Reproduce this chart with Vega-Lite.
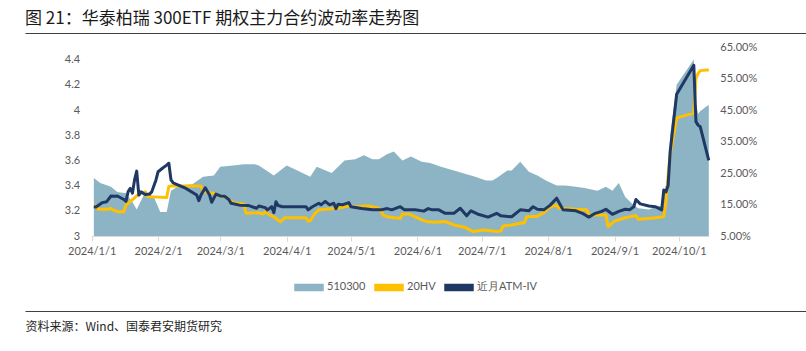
{
  "$schema": "https://vega.github.io/schema/vega-lite/v6.json",
  "width": 781,
  "height": 278,
  "autosize": {"type": "none"},
  "padding": {"left": 25, "top": 33, "right": 0, "bottom": 40},
  "background": "white",
  "view": {"stroke": "#404040", "strokeWidth": 1, "strokeDash": [781, 278], "fill": null},
  "title": {
    "text": "图 21：华泰柏瑞 300ETF 期权主力合约波动率走势图",
    "anchor": "start",
    "frame": "group",
    "font": "Noto Sans CJK SC",
    "fontSize": 17,
    "fontWeight": "normal",
    "color": "#1a1a1a",
    "offset": 5
  },
  "config": {
    "font": "Lato",
    "axis": {"grid": false, "labelFont": "Lato", "labelFontSize": 11, "labelColor": "#595959"}
  },
  "data": {
    "format": {"parse": {"d": "date"}},
    "values": [
      {"d": "2024/1/2", "s": "510300", "v": 3.46}, {"d": "2024/1/5", "s": "510300", "v": 3.42}, {"d": "2024/1/10", "s": "510300", "v": 3.39}, {"d": "2024/1/13", "s": "510300", "v": 3.35}, {"d": "2024/1/17", "s": "510300", "v": 3.34}, {"d": "2024/1/20", "s": "510300", "v": 3.27}, {"d": "2024/1/22", "s": "510300", "v": 3.21}, {"d": "2024/1/24", "s": "510300", "v": 3.28}, {"d": "2024/1/26", "s": "510300", "v": 3.35}, {"d": "2024/1/30", "s": "510300", "v": 3.31}, {"d": "2024/2/2", "s": "510300", "v": 3.19}, {"d": "2024/2/5", "s": "510300", "v": 3.19}, {"d": "2024/2/7", "s": "510300", "v": 3.36}, {"d": "2024/2/11", "s": "510300", "v": 3.40}, {"d": "2024/2/17", "s": "510300", "v": 3.41}, {"d": "2024/2/22", "s": "510300", "v": 3.47}, {"d": "2024/2/27", "s": "510300", "v": 3.48}, {"d": "2024/3/1", "s": "510300", "v": 3.55}, {"d": "2024/3/7", "s": "510300", "v": 3.56}, {"d": "2024/3/12", "s": "510300", "v": 3.57}, {"d": "2024/3/17", "s": "510300", "v": 3.57}, {"d": "2024/3/19", "s": "510300", "v": 3.56}, {"d": "2024/3/26", "s": "510300", "v": 3.48}, {"d": "2024/4/1", "s": "510300", "v": 3.56}, {"d": "2024/4/6", "s": "510300", "v": 3.52}, {"d": "2024/4/12", "s": "510300", "v": 3.47}, {"d": "2024/4/15", "s": "510300", "v": 3.55}, {"d": "2024/4/22", "s": "510300", "v": 3.50}, {"d": "2024/4/28", "s": "510300", "v": 3.60}, {"d": "2024/5/3", "s": "510300", "v": 3.61}, {"d": "2024/5/7", "s": "510300", "v": 3.64}, {"d": "2024/5/11", "s": "510300", "v": 3.61}, {"d": "2024/5/14", "s": "510300", "v": 3.61}, {"d": "2024/5/18", "s": "510300", "v": 3.65}, {"d": "2024/5/21", "s": "510300", "v": 3.67}, {"d": "2024/5/25", "s": "510300", "v": 3.60}, {"d": "2024/5/29", "s": "510300", "v": 3.63}, {"d": "2024/6/3", "s": "510300", "v": 3.59}, {"d": "2024/6/7", "s": "510300", "v": 3.58}, {"d": "2024/6/12", "s": "510300", "v": 3.55}, {"d": "2024/6/20", "s": "510300", "v": 3.51}, {"d": "2024/6/28", "s": "510300", "v": 3.47}, {"d": "2024/7/3", "s": "510300", "v": 3.44}, {"d": "2024/7/6", "s": "510300", "v": 3.44}, {"d": "2024/7/8", "s": "510300", "v": 3.46}, {"d": "2024/7/13", "s": "510300", "v": 3.52}, {"d": "2024/7/15", "s": "510300", "v": 3.52}, {"d": "2024/7/19", "s": "510300", "v": 3.59}, {"d": "2024/7/23", "s": "510300", "v": 3.51}, {"d": "2024/7/27", "s": "510300", "v": 3.48}, {"d": "2024/7/31", "s": "510300", "v": 3.44}, {"d": "2024/8/5", "s": "510300", "v": 3.40}, {"d": "2024/8/9", "s": "510300", "v": 3.40}, {"d": "2024/8/14", "s": "510300", "v": 3.39}, {"d": "2024/8/18", "s": "510300", "v": 3.38}, {"d": "2024/8/24", "s": "510300", "v": 3.36}, {"d": "2024/8/28", "s": "510300", "v": 3.39}, {"d": "2024/8/31", "s": "510300", "v": 3.36}, {"d": "2024/9/3", "s": "510300", "v": 3.42}, {"d": "2024/9/6", "s": "510300", "v": 3.31}, {"d": "2024/9/9", "s": "510300", "v": 3.26}, {"d": "2024/9/12", "s": "510300", "v": 3.22}, {"d": "2024/9/17", "s": "510300", "v": 3.21}, {"d": "2024/9/20", "s": "510300", "v": 3.23}, {"d": "2024/9/23", "s": "510300", "v": 3.24}, {"d": "2024/9/24", "s": "510300", "v": 3.35}, {"d": "2024/9/25", "s": "510300", "v": 3.40}, {"d": "2024/9/26", "s": "510300", "v": 3.51}, {"d": "2024/9/27", "s": "510300", "v": 3.80}, {"d": "2024/9/30", "s": "510300", "v": 4.20}, {"d": "2024/10/8", "s": "510300", "v": 4.40}, {"d": "2024/10/9", "s": "510300", "v": 4.05}, {"d": "2024/10/10", "s": "510300", "v": 3.97}, {"d": "2024/10/11", "s": "510300", "v": 3.99}, {"d": "2024/10/14", "s": "510300", "v": 4.03}, {"d": "2024/10/15", "s": "510300", "v": 4.04},

      {"d": "2024/1/2", "s": "20HV", "v": 0.146}, {"d": "2024/1/3", "s": "20HV", "v": 0.146}, {"d": "2024/1/4", "s": "20HV", "v": 0.135}, {"d": "2024/1/9", "s": "20HV", "v": 0.135}, {"d": "2024/1/10", "s": "20HV", "v": 0.138}, {"d": "2024/1/11", "s": "20HV", "v": 0.133}, {"d": "2024/1/13", "s": "20HV", "v": 0.127}, {"d": "2024/1/16", "s": "20HV", "v": 0.127}, {"d": "2024/1/17", "s": "20HV", "v": 0.148}, {"d": "2024/1/19", "s": "20HV", "v": 0.159}, {"d": "2024/1/22", "s": "20HV", "v": 0.177}, {"d": "2024/1/24", "s": "20HV", "v": 0.186}, {"d": "2024/1/26", "s": "20HV", "v": 0.19}, {"d": "2024/1/27", "s": "20HV", "v": 0.175}, {"d": "2024/2/5", "s": "20HV", "v": 0.172}, {"d": "2024/2/6", "s": "20HV", "v": 0.207}, {"d": "2024/2/7", "s": "20HV", "v": 0.209}, {"d": "2024/2/21", "s": "20HV", "v": 0.209}, {"d": "2024/2/22", "s": "20HV", "v": 0.191}, {"d": "2024/2/24", "s": "20HV", "v": 0.188}, {"d": "2024/2/27", "s": "20HV", "v": 0.186}, {"d": "2024/2/28", "s": "20HV", "v": 0.181}, {"d": "2024/3/4", "s": "20HV", "v": 0.172}, {"d": "2024/3/7", "s": "20HV", "v": 0.156}, {"d": "2024/3/12", "s": "20HV", "v": 0.151}, {"d": "2024/3/13", "s": "20HV", "v": 0.122}, {"d": "2024/3/19", "s": "20HV", "v": 0.124}, {"d": "2024/3/21", "s": "20HV", "v": 0.12}, {"d": "2024/3/22", "s": "20HV", "v": 0.127}, {"d": "2024/3/24", "s": "20HV", "v": 0.117}, {"d": "2024/3/26", "s": "20HV", "v": 0.111}, {"d": "2024/3/29", "s": "20HV", "v": 0.095}, {"d": "2024/3/31", "s": "20HV", "v": 0.108}, {"d": "2024/4/10", "s": "20HV", "v": 0.108}, {"d": "2024/4/11", "s": "20HV", "v": 0.097}, {"d": "2024/4/12", "s": "20HV", "v": 0.099}, {"d": "2024/4/14", "s": "20HV", "v": 0.12}, {"d": "2024/4/16", "s": "20HV", "v": 0.133}, {"d": "2024/4/25", "s": "20HV", "v": 0.138}, {"d": "2024/4/30", "s": "20HV", "v": 0.146}, {"d": "2024/5/3", "s": "20HV", "v": 0.143}, {"d": "2024/5/9", "s": "20HV", "v": 0.145}, {"d": "2024/5/14", "s": "20HV", "v": 0.138}, {"d": "2024/5/16", "s": "20HV", "v": 0.117}, {"d": "2024/5/18", "s": "20HV", "v": 0.111}, {"d": "2024/5/21", "s": "20HV", "v": 0.108}, {"d": "2024/5/24", "s": "20HV", "v": 0.106}, {"d": "2024/5/25", "s": "20HV", "v": 0.12}, {"d": "2024/5/28", "s": "20HV", "v": 0.12}, {"d": "2024/5/31", "s": "20HV", "v": 0.111}, {"d": "2024/6/3", "s": "20HV", "v": 0.101}, {"d": "2024/6/6", "s": "20HV", "v": 0.095}, {"d": "2024/6/9", "s": "20HV", "v": 0.094}, {"d": "2024/6/14", "s": "20HV", "v": 0.096}, {"d": "2024/6/18", "s": "20HV", "v": 0.085}, {"d": "2024/6/23", "s": "20HV", "v": 0.078}, {"d": "2024/6/27", "s": "20HV", "v": 0.064}, {"d": "2024/7/2", "s": "20HV", "v": 0.069}, {"d": "2024/7/8", "s": "20HV", "v": 0.064}, {"d": "2024/7/10", "s": "20HV", "v": 0.066}, {"d": "2024/7/11", "s": "20HV", "v": 0.082}, {"d": "2024/7/15", "s": "20HV", "v": 0.085}, {"d": "2024/7/21", "s": "20HV", "v": 0.093}, {"d": "2024/7/22", "s": "20HV", "v": 0.111}, {"d": "2024/7/27", "s": "20HV", "v": 0.113}, {"d": "2024/7/30", "s": "20HV", "v": 0.124}, {"d": "2024/8/2", "s": "20HV", "v": 0.143}, {"d": "2024/8/5", "s": "20HV", "v": 0.148}, {"d": "2024/8/6", "s": "20HV", "v": 0.138}, {"d": "2024/8/14", "s": "20HV", "v": 0.135}, {"d": "2024/8/19", "s": "20HV", "v": 0.133}, {"d": "2024/8/20", "s": "20HV", "v": 0.117}, {"d": "2024/8/28", "s": "20HV", "v": 0.117}, {"d": "2024/8/29", "s": "20HV", "v": 0.08}, {"d": "2024/9/1", "s": "20HV", "v": 0.097}, {"d": "2024/9/6", "s": "20HV", "v": 0.108}, {"d": "2024/9/11", "s": "20HV", "v": 0.115}, {"d": "2024/9/12", "s": "20HV", "v": 0.103}, {"d": "2024/9/18", "s": "20HV", "v": 0.106}, {"d": "2024/9/20", "s": "20HV", "v": 0.108}, {"d": "2024/9/23", "s": "20HV", "v": 0.11}, {"d": "2024/9/24", "s": "20HV", "v": 0.112}, {"d": "2024/9/25", "s": "20HV", "v": 0.159}, {"d": "2024/9/26", "s": "20HV", "v": 0.24}, {"d": "2024/9/27", "s": "20HV", "v": 0.31}, {"d": "2024/9/30", "s": "20HV", "v": 0.425}, {"d": "2024/10/8", "s": "20HV", "v": 0.44}, {"d": "2024/10/9", "s": "20HV", "v": 0.55}, {"d": "2024/10/10", "s": "20HV", "v": 0.566}, {"d": "2024/10/11", "s": "20HV", "v": 0.575}, {"d": "2024/10/14", "s": "20HV", "v": 0.577}, {"d": "2024/10/15", "s": "20HV", "v": 0.577},

      {"d": "2024/1/2", "s": "近月ATM-IV", "v": 0.143}, {"d": "2024/1/3", "s": "近月ATM-IV", "v": 0.142}, {"d": "2024/1/6", "s": "近月ATM-IV", "v": 0.156}, {"d": "2024/1/8", "s": "近月ATM-IV", "v": 0.159}, {"d": "2024/1/10", "s": "近月ATM-IV", "v": 0.177}, {"d": "2024/1/12", "s": "近月ATM-IV", "v": 0.176}, {"d": "2024/1/13", "s": "近月ATM-IV", "v": 0.177}, {"d": "2024/1/16", "s": "近月ATM-IV", "v": 0.166}, {"d": "2024/1/17", "s": "近月ATM-IV", "v": 0.16}, {"d": "2024/1/18", "s": "近月ATM-IV", "v": 0.191}, {"d": "2024/1/19", "s": "近月ATM-IV", "v": 0.201}, {"d": "2024/1/20", "s": "近月ATM-IV", "v": 0.186}, {"d": "2024/1/21", "s": "近月ATM-IV", "v": 0.228}, {"d": "2024/1/22", "s": "近月ATM-IV", "v": 0.256}, {"d": "2024/1/23", "s": "近月ATM-IV", "v": 0.18}, {"d": "2024/1/24", "s": "近月ATM-IV", "v": 0.19}, {"d": "2024/1/26", "s": "近月ATM-IV", "v": 0.182}, {"d": "2024/1/28", "s": "近月ATM-IV", "v": 0.183}, {"d": "2024/1/29", "s": "近月ATM-IV", "v": 0.19}, {"d": "2024/1/31", "s": "近月ATM-IV", "v": 0.228}, {"d": "2024/2/1", "s": "近月ATM-IV", "v": 0.254}, {"d": "2024/2/3", "s": "近月ATM-IV", "v": 0.265}, {"d": "2024/2/5", "s": "近月ATM-IV", "v": 0.275}, {"d": "2024/2/6", "s": "近月ATM-IV", "v": 0.281}, {"d": "2024/2/7", "s": "近月ATM-IV", "v": 0.228}, {"d": "2024/2/8", "s": "近月ATM-IV", "v": 0.219}, {"d": "2024/2/14", "s": "近月ATM-IV", "v": 0.201}, {"d": "2024/2/19", "s": "近月ATM-IV", "v": 0.18}, {"d": "2024/2/20", "s": "近月ATM-IV", "v": 0.162}, {"d": "2024/2/21", "s": "近月ATM-IV", "v": 0.18}, {"d": "2024/2/23", "s": "近月ATM-IV", "v": 0.203}, {"d": "2024/2/25", "s": "近月ATM-IV", "v": 0.18}, {"d": "2024/2/26", "s": "近月ATM-IV", "v": 0.157}, {"d": "2024/2/28", "s": "近月ATM-IV", "v": 0.183}, {"d": "2024/3/1", "s": "近月ATM-IV", "v": 0.177}, {"d": "2024/3/3", "s": "近月ATM-IV", "v": 0.176}, {"d": "2024/3/5", "s": "近月ATM-IV", "v": 0.166}, {"d": "2024/3/6", "s": "近月ATM-IV", "v": 0.154}, {"d": "2024/3/10", "s": "近月ATM-IV", "v": 0.148}, {"d": "2024/3/14", "s": "近月ATM-IV", "v": 0.147}, {"d": "2024/3/18", "s": "近月ATM-IV", "v": 0.138}, {"d": "2024/3/19", "s": "近月ATM-IV", "v": 0.145}, {"d": "2024/3/22", "s": "近月ATM-IV", "v": 0.14}, {"d": "2024/3/23", "s": "近月ATM-IV", "v": 0.133}, {"d": "2024/3/25", "s": "近月ATM-IV", "v": 0.143}, {"d": "2024/3/26", "s": "近月ATM-IV", "v": 0.124}, {"d": "2024/3/27", "s": "近月ATM-IV", "v": 0.159}, {"d": "2024/3/28", "s": "近月ATM-IV", "v": 0.147}, {"d": "2024/3/30", "s": "近月ATM-IV", "v": 0.143}, {"d": "2024/4/10", "s": "近月ATM-IV", "v": 0.143}, {"d": "2024/4/11", "s": "近月ATM-IV", "v": 0.133}, {"d": "2024/4/13", "s": "近月ATM-IV", "v": 0.143}, {"d": "2024/4/16", "s": "近月ATM-IV", "v": 0.154}, {"d": "2024/4/17", "s": "近月ATM-IV", "v": 0.149}, {"d": "2024/4/19", "s": "近月ATM-IV", "v": 0.16}, {"d": "2024/4/21", "s": "近月ATM-IV", "v": 0.149}, {"d": "2024/4/23", "s": "近月ATM-IV", "v": 0.154}, {"d": "2024/4/24", "s": "近月ATM-IV", "v": 0.137}, {"d": "2024/4/25", "s": "近月ATM-IV", "v": 0.151}, {"d": "2024/4/27", "s": "近月ATM-IV", "v": 0.149}, {"d": "2024/4/30", "s": "近月ATM-IV", "v": 0.156}, {"d": "2024/5/1", "s": "近月ATM-IV", "v": 0.143}, {"d": "2024/5/6", "s": "近月ATM-IV", "v": 0.137}, {"d": "2024/5/11", "s": "近月ATM-IV", "v": 0.133}, {"d": "2024/5/15", "s": "近月ATM-IV", "v": 0.133}, {"d": "2024/5/18", "s": "近月ATM-IV", "v": 0.137}, {"d": "2024/5/20", "s": "近月ATM-IV", "v": 0.133}, {"d": "2024/5/24", "s": "近月ATM-IV", "v": 0.143}, {"d": "2024/5/26", "s": "近月ATM-IV", "v": 0.133}, {"d": "2024/5/31", "s": "近月ATM-IV", "v": 0.133}, {"d": "2024/6/4", "s": "近月ATM-IV", "v": 0.129}, {"d": "2024/6/6", "s": "近月ATM-IV", "v": 0.137}, {"d": "2024/6/8", "s": "近月ATM-IV", "v": 0.133}, {"d": "2024/6/11", "s": "近月ATM-IV", "v": 0.133}, {"d": "2024/6/14", "s": "近月ATM-IV", "v": 0.122}, {"d": "2024/6/18", "s": "近月ATM-IV", "v": 0.122}, {"d": "2024/6/21", "s": "近月ATM-IV", "v": 0.138}, {"d": "2024/6/24", "s": "近月ATM-IV", "v": 0.114}, {"d": "2024/6/26", "s": "近月ATM-IV", "v": 0.13}, {"d": "2024/6/29", "s": "近月ATM-IV", "v": 0.12}, {"d": "2024/7/4", "s": "近月ATM-IV", "v": 0.11}, {"d": "2024/7/8", "s": "近月ATM-IV", "v": 0.122}, {"d": "2024/7/10", "s": "近月ATM-IV", "v": 0.114}, {"d": "2024/7/15", "s": "近月ATM-IV", "v": 0.111}, {"d": "2024/7/19", "s": "近月ATM-IV", "v": 0.133}, {"d": "2024/7/23", "s": "近月ATM-IV", "v": 0.13}, {"d": "2024/7/25", "s": "近月ATM-IV", "v": 0.143}, {"d": "2024/7/27", "s": "近月ATM-IV", "v": 0.135}, {"d": "2024/7/30", "s": "近月ATM-IV", "v": 0.133}, {"d": "2024/8/2", "s": "近月ATM-IV", "v": 0.148}, {"d": "2024/8/5", "s": "近月ATM-IV", "v": 0.17}, {"d": "2024/8/8", "s": "近月ATM-IV", "v": 0.133}, {"d": "2024/8/14", "s": "近月ATM-IV", "v": 0.13}, {"d": "2024/8/17", "s": "近月ATM-IV", "v": 0.122}, {"d": "2024/8/20", "s": "近月ATM-IV", "v": 0.11}, {"d": "2024/8/23", "s": "近月ATM-IV", "v": 0.122}, {"d": "2024/8/26", "s": "近月ATM-IV", "v": 0.128}, {"d": "2024/8/28", "s": "近月ATM-IV", "v": 0.135}, {"d": "2024/8/31", "s": "近月ATM-IV", "v": 0.119}, {"d": "2024/9/3", "s": "近月ATM-IV", "v": 0.128}, {"d": "2024/9/6", "s": "近月ATM-IV", "v": 0.135}, {"d": "2024/9/8", "s": "近月ATM-IV", "v": 0.133}, {"d": "2024/9/10", "s": "近月ATM-IV", "v": 0.143}, {"d": "2024/9/11", "s": "近月ATM-IV", "v": 0.166}, {"d": "2024/9/13", "s": "近月ATM-IV", "v": 0.152}, {"d": "2024/9/17", "s": "近月ATM-IV", "v": 0.145}, {"d": "2024/9/20", "s": "近月ATM-IV", "v": 0.143}, {"d": "2024/9/21", "s": "近月ATM-IV", "v": 0.14}, {"d": "2024/9/23", "s": "近月ATM-IV", "v": 0.133}, {"d": "2024/9/24", "s": "近月ATM-IV", "v": 0.196}, {"d": "2024/9/25", "s": "近月ATM-IV", "v": 0.19}, {"d": "2024/9/26", "s": "近月ATM-IV", "v": 0.21}, {"d": "2024/9/27", "s": "近月ATM-IV", "v": 0.32}, {"d": "2024/9/30", "s": "近月ATM-IV", "v": 0.50}, {"d": "2024/10/8", "s": "近月ATM-IV", "v": 0.592}, {"d": "2024/10/9", "s": "近月ATM-IV", "v": 0.413}, {"d": "2024/10/10", "s": "近月ATM-IV", "v": 0.402}, {"d": "2024/10/11", "s": "近月ATM-IV", "v": 0.397}, {"d": "2024/10/14", "s": "近月ATM-IV", "v": 0.316}, {"d": "2024/10/15", "s": "近月ATM-IV", "v": 0.29}
    ]
  },
  "encoding": {
    "x": {
      "field": "d",
      "type": "temporal",
      "scale": {
        "domain": [{"year": 2024, "month": 1, "date": 1}, {"year": 2024, "month": 10, "date": 15}],
        "range": [66.7, 683.8],
        "nice": false
      },
      "axis": {
        "orient": "bottom",
        "offset": -75,
        "values": [
          {"year": 2024, "month": 1, "date": 1}, {"year": 2024, "month": 2, "date": 1}, {"year": 2024, "month": 3, "date": 1},
          {"year": 2024, "month": 4, "date": 1}, {"year": 2024, "month": 5, "date": 1}, {"year": 2024, "month": 6, "date": 1},
          {"year": 2024, "month": 7, "date": 1}, {"year": 2024, "month": 8, "date": 1}, {"year": 2024, "month": 9, "date": 1},
          {"year": 2024, "month": 10, "date": 1}
        ],
        "format": "%Y/%-m/%-d",
        "domainColor": "#d9d9d9",
        "tickColor": "#d9d9d9",
        "tickSize": 5,
        "labelPadding": 4,
        "labelFlush": false,
        "labelOverlap": false,
        "title": "资料来源：Wind、国泰君安期货研究",
        "titleX": 0,
        "titleY": 90,
        "titleAlign": "left",
        "titleAnchor": "start",
        "titleBaseline": "middle",
        "titleFont": "Noto Sans CJK SC",
        "titleFontSize": 12,
        "titleFontWeight": "normal",
        "titleColor": "#262626"
      }
    }
  },
  "layer": [
    {
      "transform": [{"filter": "datum.s === '510300'"}],
      "mark": {"type": "area", "opacity": 1},
      "encoding": {
        "y": {
          "field": "v",
          "type": "quantitative",
          "scale": {"domain": [3, 4.5], "range": [203, 14], "zero": false, "nice": false},
          "axis": {
            "orient": "left",
            "offset": -66.7,
            "domain": false,
            "ticks": false,
            "labelPadding": 12,
            "values": [3, 3.2, 3.4, 3.6, 3.8, 4, 4.2, 4.4],
            "format": ".1~f",
            "title": null
          }
        },
        "y2": {"datum": 3},
        "color": {
          "field": "s",
          "type": "nominal",
          "scale": {"domain": ["510300", "20HV", "近月ATM-IV"], "range": ["#8db4c4", "#ffc000", "#1f3864"]},
          "legend": {
            "orient": "none",
            "legendX": 269,
            "legendY": 239,
            "direction": "horizontal",
            "title": null,
            "symbolType": "M-1,-0.22H1V0.22H-1Z",
            "symbolSize": 784,
            "labelFont": "Lato",
            "labelFontSize": 11,
            "labelColor": "#595959",
            "labelOffset": 3,
            "columnPadding": 6,
            "encode": {
              "symbols": {
                "update": {
                  "shape": {"signal": "datum.value === '510300' ? 'M-1,-0.22H1V0.22H-1Z' : 'M-1,-0.1H1V0.1H-1Z'"},
                  "fill": {"signal": "scale('color', datum.value)"},
                  "stroke": {"value": "transparent"},
                  "strokeWidth": {"value": 0},
                  "opacity": {"value": 1}
                }
              }
            }
          }
        }
      }
    },
    {
      "transform": [{"filter": "datum.s !== '510300'"}],
      "mark": {"type": "line", "strokeWidth": 3, "strokeJoin": "round"},
      "encoding": {
        "y": {
          "field": "v",
          "type": "quantitative",
          "scale": {"domain": [0.05, 0.65], "range": [203, 14], "zero": false, "nice": false},
          "axis": {
            "orient": "right",
            "offset": -97.2,
            "domain": false,
            "ticks": false,
            "labelPadding": 11,
            "values": [0.05, 0.15, 0.25, 0.35, 0.45, 0.55, 0.65],
            "format": ".2%",
            "title": null
          }
        },
        "color": {"field": "s", "type": "nominal"}
      }
    }
  ],
  "resolve": {"scale": {"y": "independent"}, "axis": {"y": "independent"}}
}
